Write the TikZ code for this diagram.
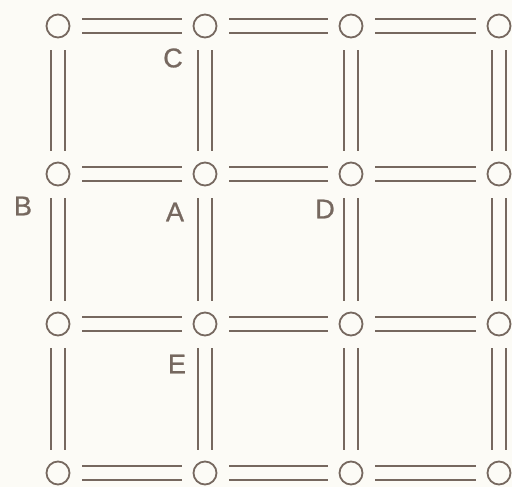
\documentclass[tikz,border=0pt]{standalone}
\usepackage{fontspec}
\newfontfamily\lblfont{Liberation Sans}[FakeBold=0.9]
\usetikzlibrary{calc}
\definecolor{inkC}{HTML}{76685F}
\definecolor{paperC}{HTML}{FCFBF6}

\begin{document}
\begin{tikzpicture}[x=1pt,y=-1pt,
  joint/.style={circle,draw=inkC,line width=1.8pt,minimum size=23pt,inner sep=0pt},
  rod/.style={draw=inkC,line width=1.8pt,double=paperC,double distance=12.2pt,
    shorten <=12pt,shorten >=11pt},
  lbl/.style={text=inkC,font=\lblfont\fontsize{27}{27}\selectfont,inner sep=0pt}]
  \fill[paperC] (0,0) rectangle (512,487);
  \useasboundingbox (0,0) rectangle (512,487);

  % joints of the frame
  \foreach \x [count=\i] in {58,205,351,499}
    \foreach \y [count=\j] in {26,174,324,473}
      \node[joint] (n\i\j) at (\x,\y) {};

  % horizontal rods
  \foreach \i/\k in {1/2,2/3,3/4}
    \foreach \j in {1,...,4}
      \draw[rod] (n\i\j) -- (n\k\j);

  % vertical rods
  \foreach \j/\l in {1/2,2/3,3/4}
    \foreach \i in {1,...,4}
      \draw[rod] (n\i\j) -- (n\i\l);

  % letters
  \node[lbl] (labC) at (173,58) {C};
  \node[lbl] (labB) at (23,206) {B};
  \node[lbl] (labA) at (175,212) {A};
  \node[lbl] (labD) at (325,209) {D};
  \node[lbl] (labE) at (177,364) {E};
\end{tikzpicture}
\end{document}
